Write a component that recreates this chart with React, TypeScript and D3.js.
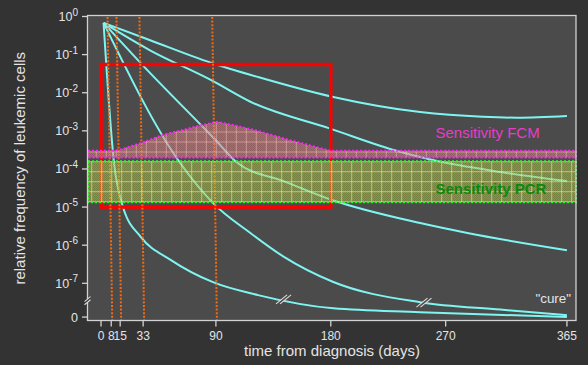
import React from 'react';
import * as d3 from 'd3';

// ---------- data ----------
const X_TICKS = [0, 8, 15, 33, 90, 180, 270, 365];
const Y_TICK_EXPONENTS = [0, -1, -2, -3, -4, -5, -6, -7];
const ZERO_PROXY = 1.3e-8; // position used for the "0" (cure) level
const AXIS_BREAK_VALUE = 3.5e-8;
const MARKER_DAYS = [8, 15, 33, 90];

const START_DAY = 2;
const START_VALUE = 0.68;

const CURVE_A_DAYS = [38, 86, 123, 181, 250, 299, 326, 365];
const CURVE_A_VALUES = [0.242, 0.0612, 0.0258, 7.85e-3, 3.11e-3, 2.34e-3, 2.21e-3, 2.45e-3];

const CURVE_B_DAYS = [38, 86, 117, 179, 234, 260, 313, 365];
const CURVE_B_VALUES = [0.132, 0.0216, 5.8e-3, 1.16e-3, 2.83e-4, 1.71e-4, 8.3e-5, 4.8e-5];

const CURVE_C_DAYS = [32, 89, 107, 143, 181, 250, 287, 365];
const CURVE_C_VALUES = [0.0556, 6.1e-4, 1.43e-4, 4.8e-5, 1.53e-5, 3.8e-6, 2.09e-6, 7.4e-7];

const CURVE_E_DAYS = [62, 88, 117, 143, 182, 250, 313, 365];
const CURVE_E_VALUES = [1.43e-4, 1.25e-5, 2.08e-6, 5.0e-7, 1.08e-7, 3.2e-8, 2.04e-8, 1.46e-8];

const CURVE_D_DAYS = [10.2, 17.2, 31.3, 54.8, 87.7, 123, 182, 250, 365];
const CURVE_D_VALUES = [1.43e-4, 1.0e-5, 1.63e-6, 4.07e-7, 1.07e-7, 4.9e-8, 2.2e-8, 1.75e-8, 1.3e-8];

const RED_BOX_DAYS = [0, 180];
const RED_BOX_VALUES = [0.055, 1e-5];

const FCM_DAYS = [-10.2, 9, 16, 32, 50, 66, 76, 91, 107, 123, 148, 180, 372.1];
const FCM_TOP = [3e-4, 3e-4, 3.27e-4, 4.87e-4, 8.1e-4, 1.09e-3, 1.34e-3, 1.72e-3, 1.34e-3, 9.9e-4, 5.7e-4, 3e-4, 3e-4];
const FCM_BOTTOM = 2e-4;

const PCR_RANGE = [1.33e-5, 1.6e-4];

const BREAK_DAYS = [143, 253];
const BREAK_VALUES = [3.8e-8, 3.1e-8];

const LABEL_DAY = 262;
const FCM_LABEL_VALUE = 6.4e-4;
const PCR_LABEL_VALUE = 2.2e-5;
const CURE_LABEL_DAY = 368.2;
const CURE_LABEL_VALUE = 3e-8;

// ---------- layout / style ----------
const W = 588;
const H = 365;
const MARGIN = { top: 16, right: 12, bottom: 44.5, left: 88 };
const X_DOMAIN = [-10.2, 372.1];
const Y_RANGE = [16.5, 283.3];
const OUTER_BG = '#333333';
const PLOT_BG = '#4b4b4b';
const TEXT = '#e4e4e4';
const CYAN = '#7ff5f2';
const FONT = '"Liberation Sans", Arial, Helvetica, sans-serif';
const MARKER_LEAN = [-3.7, 1];

function BreakMark({ cx, cy, hw, hh, off, bg }: any) {
  const a1 = [cx - hw - off[0], cy + hh - off[1]];
  const b1 = [cx + hw - off[0], cy - hh - off[1]];
  const a2 = [cx - hw + off[0], cy + hh + off[1]];
  const b2 = [cx + hw + off[0], cy - hh + off[1]];
  return (
    <g>
      <polygon points={[a1, b1, b2, a2].map((p) => p.join(',')).join(' ')} fill={bg} />
      <line x1={a1[0]} y1={a1[1]} x2={b1[0]} y2={b1[1]} stroke="#dcdcdc" strokeWidth={1.1} />
      <line x1={a2[0]} y1={a2[1]} x2={b2[0]} y2={b2[1]} stroke="#dcdcdc" strokeWidth={1.1} />
    </g>
  );
}

export default function App() {
  const plotLeft = MARGIN.left;
  const plotRight = W - MARGIN.right;
  const plotTop = MARGIN.top;
  const plotBottom = H - MARGIN.bottom;

  const x = d3.scaleLinear().domain(X_DOMAIN).range([plotLeft, plotRight]);
  const y = d3.scaleLog().domain([1, 1e-7]).range(Y_RANGE);

  const line = d3
    .line<[number, number]>()
    .x((d) => x(d[0]))
    .y((d) => y(d[1]))
    .curve(d3.curveMonotoneX);

  const curves: [number[], number[]][] = [
    [CURVE_A_DAYS, CURVE_A_VALUES],
    [CURVE_B_DAYS, CURVE_B_VALUES],
    [CURVE_C_DAYS, CURVE_C_VALUES],
    [CURVE_E_DAYS, CURVE_E_VALUES],
    [CURVE_D_DAYS, CURVE_D_VALUES],
  ];
  const curvePaths = curves.map(([days, vals]) => {
    const pts: [number, number][] = [[START_DAY, START_VALUE], ...days.map((d, i) => [d, vals[i]] as [number, number])];
    return line(pts) as string;
  });

  const fcmArea = d3
    .area<[number, number]>()
    .x((d) => x(d[0]))
    .y0(() => y(FCM_BOTTOM))
    .y1((d) => y(d[1]))
    .curve(d3.curveLinear);
  const fcmPts: [number, number][] = FCM_DAYS.map((d, i) => [d, FCM_TOP[i]]);
  const fcmPath = (fcmArea(fcmPts) as string) + 'Z';

  const pcrX0 = x(X_DOMAIN[0]);
  const pcrX1 = x(X_DOMAIN[1]);
  const pcrY0 = y(PCR_RANGE[1]);
  const pcrY1 = y(PCR_RANGE[0]);

  const yZero = y(ZERO_PROXY);
  const yAxisBreak = y(AXIS_BREAK_VALUE);

  return (
    <svg
      width={W}
      height={H}
      style={{ position: 'absolute', left: 0, top: 0, display: 'block', fontFamily: FONT }}
    >
      <defs>
        <pattern id="gridPcr" width="10" height="10" x="1.2" y="1.2" patternUnits="userSpaceOnUse">
          <path d="M0 0.5H10M0.5 0V10" stroke="#eef884" strokeOpacity={0.55} strokeWidth={1} />
        </pattern>
        <pattern id="gridFcm" width="10" height="10" x="5.8" y="1.5" patternUnits="userSpaceOnUse">
          <path d="M0 0.5H10M0.5 0V10" stroke="#ffc0c0" strokeOpacity={0.5} strokeWidth={1} />
        </pattern>
        <pattern id="checker" width="2" height="2" patternUnits="userSpaceOnUse">
          <rect width="1" height="1" fill="#000" fillOpacity={0.12} />
          <rect x="1" y="1" width="1" height="1" fill="#000" fillOpacity={0.12} />
        </pattern>
        <clipPath id="plotClip">
          <rect x={plotLeft} y={plotTop} width={plotRight - plotLeft + 2} height={plotBottom - plotTop} />
        </clipPath>
      </defs>

      <rect x={0} y={0} width={W} height={H} fill={OUTER_BG} />
      <rect x={plotLeft} y={plotTop} width={plotRight - plotLeft} height={plotBottom - plotTop} fill={PLOT_BG} />

      {/* curves */}
      <g clipPath="url(#plotClip)">
        {curvePaths.map((p, i) => (
          <path key={i} d={p} fill="none" stroke={CYAN} strokeWidth={2} strokeLinejoin="round" />
        ))}
      </g>

      {/* red box */}
      <rect
        x={x(RED_BOX_DAYS[0])}
        y={y(RED_BOX_VALUES[0])}
        width={x(RED_BOX_DAYS[1]) - x(RED_BOX_DAYS[0])}
        height={y(RED_BOX_VALUES[1]) - y(RED_BOX_VALUES[0])}
        fill="none"
        stroke="#ff0000"
        strokeWidth={3.5}
      />

      {/* time markers */}
      {MARKER_DAYS.map((d) => (
        <line
          key={d}
          x1={x(d) + MARKER_LEAN[0]}
          y1={plotTop + 1}
          x2={x(d) + MARKER_LEAN[1]}
          y2={plotBottom}
          stroke="#f26a12"
          strokeWidth={2}
          strokeDasharray="2 1.6"
        />
      ))}

      {/* FCM band */}
      <path d={fcmPath} fill="#ff9090" fillOpacity={0.5} />
      <path d={fcmPath} fill="url(#checker)" />
      <path d={fcmPath} fill="url(#gridFcm)" />
      <path d={fcmPath} fill="none" stroke="#ff22ff" strokeWidth={2} strokeDasharray="2 2" />

      {/* PCR band */}
      <rect x={pcrX0} y={pcrY0} width={pcrX1 - pcrX0} height={pcrY1 - pcrY0} fill="#c4e04c" fillOpacity={0.5} />
      <rect x={pcrX0} y={pcrY0} width={pcrX1 - pcrX0} height={pcrY1 - pcrY0} fill="url(#checker)" />
      <rect x={pcrX0} y={pcrY0} width={pcrX1 - pcrX0} height={pcrY1 - pcrY0} fill="url(#gridPcr)" />
      <rect
        x={pcrX0}
        y={pcrY0}
        width={pcrX1 - pcrX0}
        height={pcrY1 - pcrY0}
        fill="none"
        stroke="#22ff22"
        strokeWidth={2}
        strokeDasharray="2 2"
      />

      {/* band labels */}
      <text x={x(LABEL_DAY)} y={y(FCM_LABEL_VALUE)} fontSize={15} fill="#e83cc8">
        Sensitivity FCM
      </text>
      <text x={x(LABEL_DAY)} y={y(PCR_LABEL_VALUE)} fontSize={15} fontWeight="bold" fill="#0a8a0a">
        Sensitivity PCR
      </text>
      <text x={x(CURE_LABEL_DAY)} y={y(CURE_LABEL_VALUE)} fontSize={13.4} fill={TEXT} textAnchor="end">
        "cure"
      </text>

      {/* curve breaks */}
      {BREAK_DAYS.map((d, i) => (
        <BreakMark key={d} cx={x(d)} cy={y(BREAK_VALUES[i])} hw={5.5} hh={4.5} off={[2, 0]} bg={PLOT_BG} />
      ))}

      {/* frame / axes */}
      <rect
        x={plotLeft - 0.5}
        y={plotTop - 0.5}
        width={plotRight - plotLeft + 0.5}
        height={plotBottom - plotTop + 0.5}
        fill="none"
        stroke="#d2d2d2"
        strokeWidth={1.3}
      />

      {/* y ticks */}
      {Y_TICK_EXPONENTS.map((e) => {
        const yy = y(Math.pow(10, e));
        return (
          <g key={e}>
            <line x1={plotLeft - 6} x2={plotLeft - 0.5} y1={yy} y2={yy} stroke="#d2d2d2" strokeWidth={1.3} />
            <text x={plotLeft - 10} y={yy + 4.5} fontSize={12.5} fill={TEXT} textAnchor="end">
              <tspan>10</tspan>
              <tspan dy={-5.5} fontSize={10}>
                {String(e)}
              </tspan>
            </text>
          </g>
        );
      })}
      <line x1={plotLeft - 6} x2={plotLeft - 0.5} y1={yZero} y2={yZero} stroke="#d2d2d2" strokeWidth={1.3} />
      <text x={plotLeft - 10} y={yZero + 4.5} fontSize={12.5} fill={TEXT} textAnchor="end">
        0
      </text>
      <BreakMark cx={plotLeft - 0.5} cy={yAxisBreak} hw={3} hh={2.5} off={[0, 1.6]} bg={OUTER_BG} />

      {/* x ticks */}
      {X_TICKS.map((d) => (
        <g key={d}>
          <line x1={x(d)} x2={x(d)} y1={plotBottom} y2={plotBottom + 6} stroke="#d2d2d2" strokeWidth={1.3} />
          <text x={x(d)} y={plotBottom + 19} fontSize={12} fill={TEXT} textAnchor="middle">
            {d}
          </text>
        </g>
      ))}

      {/* axis titles */}
      <text x={(plotLeft + plotRight) / 2} y={356} fontSize={15} fill={TEXT} textAnchor="middle">
        time from diagnosis (days)
      </text>
      <text
        transform={`translate(25,${(plotTop + plotBottom) / 2}) rotate(-90)`}
        fontSize={15}
        fill={TEXT}
        textAnchor="middle"
      >
        relative frequency of leukemic cells
      </text>
    </svg>
  );
}
